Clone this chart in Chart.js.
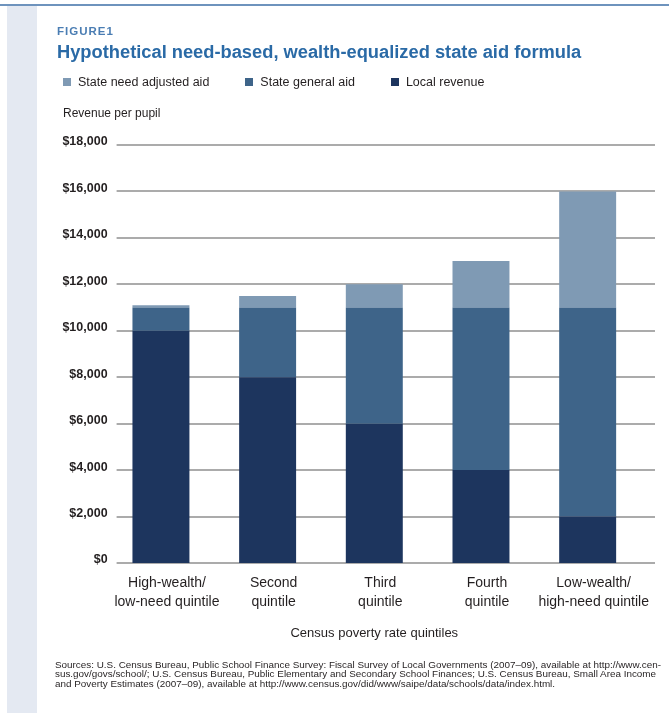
<!DOCTYPE html>
<html>
<head>
<meta charset="utf-8">
<script src="https://cdn.jsdelivr.net/npm/chart.js@4/dist/chart.umd.min.js"></script>
<style>
    body {
        margin: 0;
        width: 669px;
        height: 713px;
        background: #ffffff;
        position: relative;
        overflow: hidden;
        font-family: 'Liberation Sans', Arial, sans-serif;
        color: #231f20;
    }
    .top-line {
        position: absolute;
        left: 0;
        top: 4px;
        width: 669px;
        height: 2px;
        background: #6e93bd;
    }
    .side-strip {
        position: absolute;
        left: 7px;
        top: 6px;
        width: 30px;
        height: 707px;
        background: #e4e9f2;
    }
    #chart {
        position: absolute;
        left: 0;
        top: 0;
    }
    .fig-label {
        position: absolute;
        left: 57px;
        top: 26px;
        font-size: 11.5px;
        line-height: 1;
        font-weight: bold;
        letter-spacing: 1px;
        color: #4a7db3;
    }
    .fig-title {
        position: absolute;
        left: 57px;
        top: 43px;
        font-size: 18.3px;
        line-height: 1;
        font-weight: bold;
        color: #2a6aa6;
        white-space: nowrap;
    }
    #legend {
        position: absolute;
        left: 63px;
        top: 76px;
        display: flex;
        font-size: 12.5px;
        line-height: 1;
        white-space: nowrap;
    }
    #legend .item {
        display: flex;
        align-items: center;
        margin-right: 36px;
    }
    #legend .box {
        width: 8px;
        height: 8px;
        margin-right: 7px;
    }
    .y-title {
        position: absolute;
        left: 63px;
        top: 107px;
        font-size: 12px;
        line-height: 1;
    }
    .sources {
        position: absolute;
        left: 55px;
        top: 660px;
        font-size: 9.9px;
        line-height: 9.3px;
        white-space: nowrap;
    }
</style>
</head>
<body>
<div class="top-line"></div>
<div class="side-strip"></div>
<canvas id="chart" width="669" height="713"></canvas>
<div class="fig-label">FIGURE1</div>
<div class="fig-title">Hypothetical need-based, wealth-equalized state aid formula</div>
<div id="legend"></div>
<div class="y-title">Revenue per pupil</div>
<div class="sources">
    Sources: U.S. Census Bureau, Public School Finance Survey: Fiscal Survey of Local Governments (2007–09), available at http://www.cen-<br>
    sus.gov/govs/school/; U.S. Census Bureau, Public Elementary and Secondary School Finances; U.S. Census Bureau, Small Area Income<br>
    and Poverty Estimates (2007–09), available at http://www.census.gov/did/www/saipe/data/schools/data/index.html.
</div>

<script>
    // quintile labels (two lines each)
    const quintiles = [
        ['High-wealth/', 'low-need quintile'],
        ['Second', 'quintile'],
        ['Third', 'quintile'],
        ['Fourth', 'quintile'],
        ['Low-wealth/', 'high-need quintile']
    ];

    // revenue per pupil, dollars
    const localRevenue = [10000, 8000, 6000, 4000, 2000];
    const stateGeneralAid = [1000, 3000, 5000, 7000, 9000];
    const stateNeedAdjustedAid = [100, 500, 1000, 2000, 5000];

    const yTicks = [0, 2000, 4000, 6000, 8000, 10000, 12000, 14000, 16000, 18000];

    const colors = {
        local: '#1d355e',
        general: '#3e6489',
        need: '#7f9ab4'
    };

    Chart.defaults.font.family = "'Liberation Sans', Arial, sans-serif";
    Chart.defaults.color = '#231f20';

    // horizontal grid lines a bit wider than the bars area, like in the figure
    const gridPlugin = {
        id: 'wideGrid',
        beforeDatasetsDraw(chart) {
            const ctx = chart.ctx;
            const y = chart.scales.y;
            const area = chart.chartArea;
            ctx.save();
            ctx.strokeStyle = '#ababab';
            ctx.lineWidth = 2;
            y.ticks.forEach(tick => {
                const py = Math.round(y.getPixelForValue(tick.value));
                ctx.beginPath();
                ctx.moveTo(area.left + 9, py);
                ctx.lineTo(area.right + 14, py);
                ctx.stroke();
            });
            ctx.restore();
        }
    };

    // html legend, made from the chart's own legend items
    const htmlLegend = {
        id: 'htmlLegend',
        afterUpdate(chart) {
            const box = document.getElementById('legend');
            box.innerHTML = '';
            const items = chart.options.plugins.legend.labels.generateLabels(chart).reverse();
            items.forEach(item => {
                const el = document.createElement('div');
                el.className = 'item';
                const sq = document.createElement('span');
                sq.className = 'box';
                sq.style.background = item.fillStyle;
                const txt = document.createElement('span');
                txt.textContent = item.text;
                el.appendChild(sq);
                el.appendChild(txt);
                box.appendChild(el);
            });
        }
    };

    const ctx = document.getElementById('chart').getContext('2d');
    const chart = new Chart(ctx, {
        type: 'bar',
        data: {
            labels: quintiles,
            datasets: [
                {label: 'Local revenue', data: localRevenue, backgroundColor: colors.local},
                {label: 'State general aid', data: stateGeneralAid, backgroundColor: colors.general},
                {label: 'State need adjusted aid', data: stateNeedAdjustedAid, backgroundColor: colors.need}
            ]
        },
        options: {
            responsive: false,
            animation: false,
            layout: {
                padding: {left: 0, right: 28, top: 145, bottom: 68}
            },
            datasets: {
                bar: {
                    barPercentage: 0.534,
                    categoryPercentage: 1
                }
            },
            scales: {
                x: {
                    stacked: true,
                    grid: {display: false, drawTicks: false},
                    border: {display: false},
                    ticks: {
                        padding: 11,
                        labelOffset: 6,
                        autoSkip: false,
                        maxRotation: 0,
                        minRotation: 0,
                        color: '#231f20',
                        font: {size: 14, lineHeight: 1.35}
                    },
                    title: {
                        display: true,
                        text: 'Census poverty rate quintiles',
                        color: '#231f20',
                        font: {size: 13},
                        padding: {top: 4, bottom: 4}
                    },
                    afterFit(scale) {
                        scale.height = 82;
                    }
                },
                y: {
                    stacked: true,
                    min: 0,
                    max: 18000,
                    afterBuildTicks(scale) {
                        scale.ticks = yTicks.map(v => ({value: v}));
                    },
                    grid: {display: false, drawTicks: false},
                    border: {display: false},
                    ticks: {
                        padding: 0,
                        labelOffset: -3,
                        color: '#231f20',
                        font: {size: 12.5, weight: 'bold'},
                        callback: value => '$' + value.toLocaleString('en-US')
                    },
                    afterFit(scale) {
                        scale.width = 107.6;
                    }
                }
            },
            plugins: {
                legend: {display: false},
                tooltip: {enabled: false}
            }
        },
        plugins: [gridPlugin, htmlLegend]
    });
</script>
</body>
</html>
